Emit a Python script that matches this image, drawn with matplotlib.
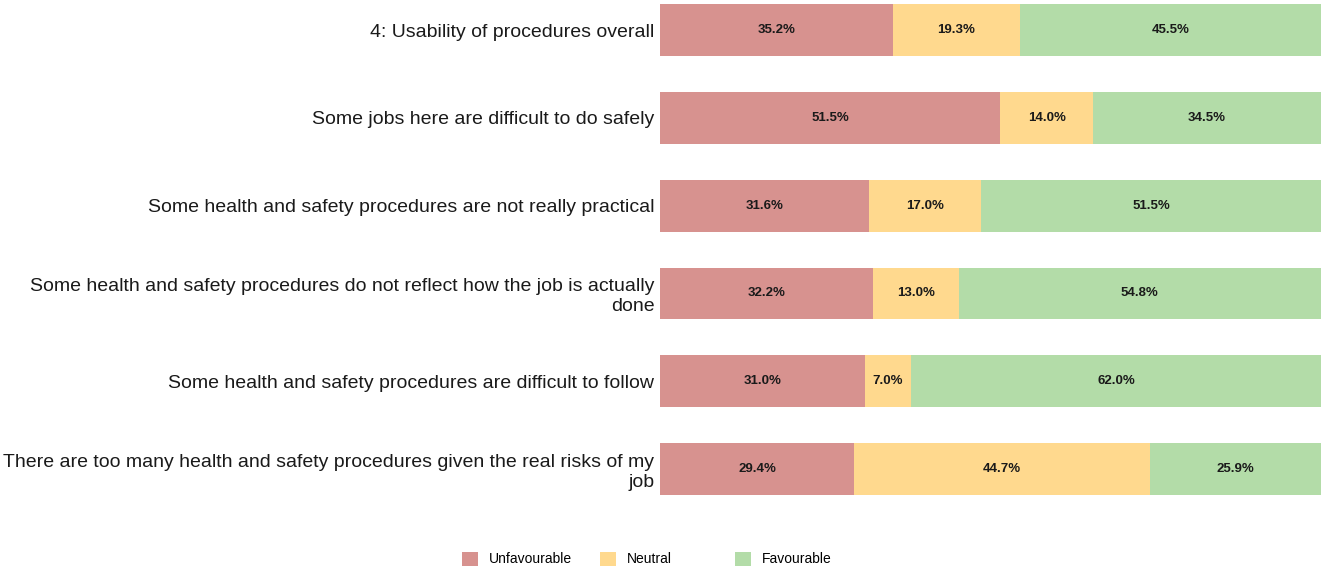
import matplotlib.pyplot as plt
from matplotlib.patches import Patch

plt.rcParams['font.family'] = ['Liberation Sans', 'DejaVu Sans']

questions = [
    '4: Usability of procedures overall',
    'Some jobs here are difficult to do safely',
    'Some health and safety procedures are not really practical',
    'Some health and safety procedures do not reflect how the job is actually\ndone',
    'Some health and safety procedures are difficult to follow',
    'There are too many health and safety procedures given the real risks of my\njob',
]
unfavourable = [35.2, 51.5, 31.6, 32.2, 31.0, 29.4]
neutral = [19.3, 14.0, 17.0, 13.0, 7.0, 44.7]
favourable = [45.5, 34.5, 51.5, 54.8, 62.0, 25.9]

series = ['Unfavourable', 'Neutral', 'Favourable']
colors = ['#D7928F', '#FFD98E', '#B3DCA8']

fig = plt.figure(figsize=(13.24, 5.70), dpi=100)
ax = fig.add_axes([660 / 1324, 70 / 570, 661 / 1324, 500 / 570])

y = list(range(len(questions)))
left = [0.0] * len(questions)
for name, vals, col in zip(series, [unfavourable, neutral, favourable], colors):
    bars = ax.barh(y, vals, left=left, height=0.59, color=col, label=name)
    for b, v in zip(bars, vals):
        ax.text(b.get_x() + b.get_width() / 2, b.get_y() + b.get_height() / 2,
                f'{v:.1f}%', ha='center', va='center', fontsize=9.5,
                fontweight='bold', color='#1a1a1a')
    left = [l + v for l, v in zip(left, vals)]

ax.set_xlim(0, 100)
ax.set_ylim(5.353, -0.342)
ax.set_yticks(y)
ax.set_yticklabels(questions, fontsize=14.0, color='#1a1a1a', linespacing=1.2)
ax.tick_params(axis='y', length=0, pad=4)
ax.set_xticks([])
for s in ax.spines.values():
    s.set_visible(False)

# legend entries sit in fixed-width columns
legend_x = [462, 600, 735]
for name, col, lx in zip(series, colors, legend_x):
    leg = fig.legend([Patch(facecolor=col, edgecolor='none')], [name],
                     loc='center left', bbox_to_anchor=(lx / 1324 - 0.0095, 0.019),
                     frameon=False, fontsize=10, handlelength=1.15, handleheight=1.15,
                     handletextpad=0.8)

fig.savefig('out.png', dpi=100)
